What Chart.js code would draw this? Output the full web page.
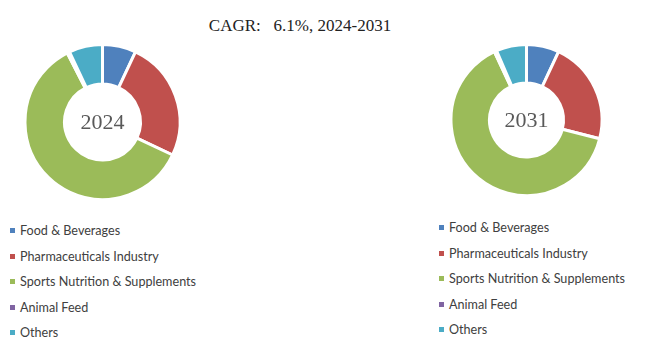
<!DOCTYPE html>
<html>
<head>
<meta charset="utf-8">
<script src="https://cdn.jsdelivr.net/npm/chart.js@4"></script>
<style>
  body { margin: 0; background: #fff; width: 650px; height: 353px; position: relative; overflow: hidden; }
  #title { position: absolute; left: 0; width: 600px; top: 16px; text-align: center; white-space: pre;
           font-family: "Liberation Serif", serif; font-size: 17px; color: #222; }
  .box { position: absolute; }
  .legend { position: absolute; list-style: none; margin: 0; padding: 0;
            font-family: "Lato", "Liberation Sans", sans-serif; font-size: 12.6px; color: #404040; }
  .legend li { height: 25.5px; line-height: 25.5px; white-space: nowrap; }
  .legend span { display: inline-block; width: 5px; height: 5px; margin-right: 5px; vertical-align: middle; position: relative; top: -1px; }
</style>
</head>
<body>
<div id="title">CAGR:   6.1%, 2024-2031</div>
<div class="box" style="left:0px; top:43px;"><canvas id="c2024" width="205" height="158"></canvas></div>
<div class="box" style="left:424px; top:43px;"><canvas id="c2031" width="205" height="154"></canvas></div>
<ul class="legend" id="l2024" style="left:10px; top:218px;"></ul>
<ul class="legend" id="l2031" style="left:439px; top:215px;"></ul>
<script>
const categories = ['Food & Beverages', 'Pharmaceuticals Industry', 'Sports Nutrition & Supplements', 'Animal Feed', 'Others'];
const share2024 = [7, 25, 60.5, 0.5, 7];
const share2031 = [7, 22, 64, 0.5, 6.5];
const colors = ['#4F81BD', '#C0504D', '#9BBB59', '#8064A2', '#4BACC6'];

// year label in the hole
const centerText = {
  id: 'centerText',
  afterDraw(chart, args, opts) {
    const ctx = chart.ctx;
    const a = chart.chartArea;
    ctx.save();
    ctx.font = '22px "Liberation Serif", serif';
    ctx.fillStyle = '#595959';
    ctx.textAlign = 'center';
    ctx.textBaseline = 'middle';
    ctx.fillText(opts.text, (a.left + a.right) / 2, (a.top + a.bottom) / 2 + 1);
    ctx.restore();
  }
};

function makeChart(id, values, year) {
  return new Chart(document.getElementById(id), {
    type: 'doughnut',
    data: {
      labels: categories,
      datasets: [{
        data: values,
        backgroundColor: colors,
        borderColor: '#fff',
        borderWidth: 3
      }]
    },
    options: {
      responsive: false,
      animation: false,
      devicePixelRatio: 1,
      cutout: '49%',
      layout: { padding: 0 },
      plugins: {
        legend: { display: false },
        tooltip: { enabled: false },
        centerText: { text: year }
      }
    },
    plugins: [centerText]
  });
}

function htmlLegend(chart, listId) {
  const ul = document.getElementById(listId);
  const ds = chart.data.datasets[0];
  chart.data.labels.forEach((lab, i) => {
    const li = document.createElement('li');
    const sq = document.createElement('span');
    sq.style.background = ds.backgroundColor[i];
    li.appendChild(sq);
    li.appendChild(document.createTextNode(lab));
    ul.appendChild(li);
  });
}

const ch1 = makeChart('c2024', share2024, '2024');
const ch2 = makeChart('c2031', share2031, '2031');
htmlLegend(ch1, 'l2024');
htmlLegend(ch2, 'l2031');
</script>
</body>
</html>
